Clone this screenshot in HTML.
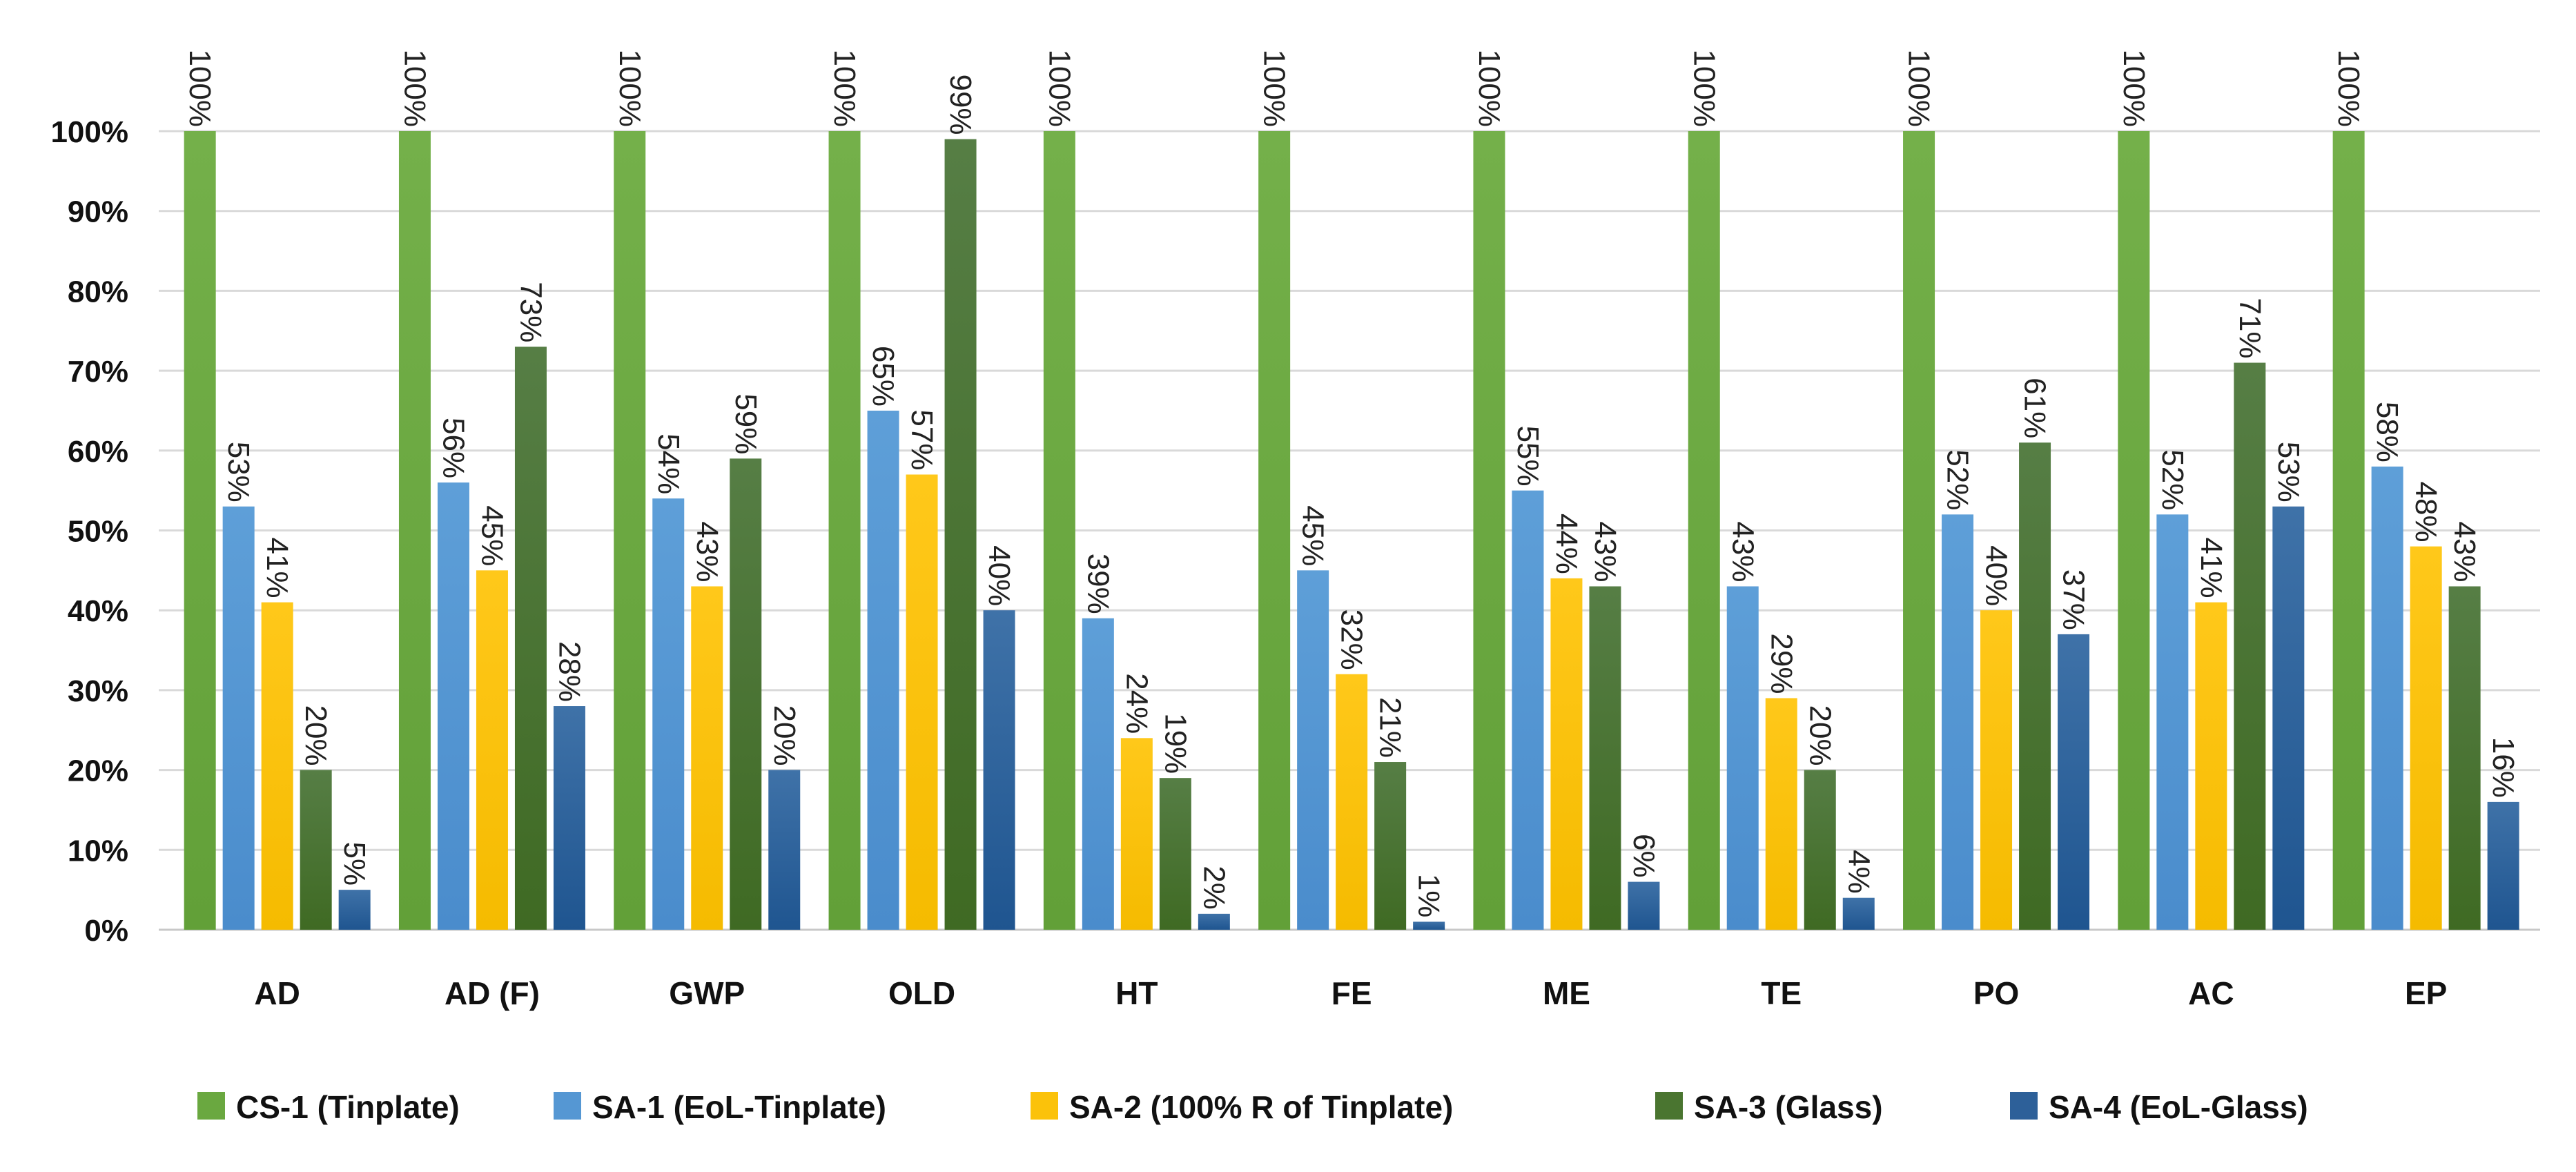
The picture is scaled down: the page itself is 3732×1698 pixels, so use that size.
<!DOCTYPE html>
<html><head><meta charset="utf-8"><style>
html,body{margin:0;padding:0;background:#fff}
svg{display:block;font-family:"Liberation Sans",sans-serif}
</style></head><body>
<svg id="chart" width="3732" height="1698" viewBox="0 0 3732 1698">
<defs>
<linearGradient id="g0" x1="0" x2="0" y1="0" y2="1"><stop offset="0" stop-color="#74b04a"/><stop offset="1" stop-color="#62a038"/></linearGradient>
<linearGradient id="g1" x1="0" x2="0" y1="0" y2="1"><stop offset="0" stop-color="#5e9fd8"/><stop offset="1" stop-color="#4a8ccc"/></linearGradient>
<linearGradient id="g2" x1="0" x2="0" y1="0" y2="1"><stop offset="0" stop-color="#ffc81a"/><stop offset="1" stop-color="#f5bb00"/></linearGradient>
<linearGradient id="g3" x1="0" x2="0" y1="0" y2="1"><stop offset="0" stop-color="#567e45"/><stop offset="1" stop-color="#3f6a23"/></linearGradient>
<linearGradient id="g4" x1="0" x2="0" y1="0" y2="1"><stop offset="0" stop-color="#3f72a8"/><stop offset="1" stop-color="#1f5590"/></linearGradient>
</defs>
<g id="grid"></g><g id="bars"></g><g id="labels"></g><g id="axis"></g><g id="legend"></g>
</svg>
<script>
const categories = ["AD","AD (F)","GWP","OLD","HT","FE","ME","TE","PO","AC","EP"];
const seriesNames = ["CS-1 (Tinplate)","SA-1 (EoL-Tinplate)","SA-2 (100% R of Tinplate)","SA-3 (Glass)","SA-4 (EoL-Glass)"];
const cs1 = [100,100,100,100,100,100,100,100,100,100,100];
const sa1 = [53,56,54,65,39,45,55,43,52,52,58];
const sa2 = [41,45,43,57,24,32,44,29,40,41,48];
const sa3 = [20,73,59,99,19,21,43,20,61,71,43];
const sa4 = [5,28,20,40,2,1,6,4,37,53,16];
const yTicks = [0,10,20,30,40,50,60,70,80,90,100];

const series = [cs1,sa1,sa2,sa3,sa4];
const fills = ["url(#g0)","url(#g1)","url(#g2)","url(#g3)","url(#g4)"];
const legendSw = ["#6aa840","#5597d3","#fbc20a","#4a7530","#2d6099"];
const NS = "http://www.w3.org/2000/svg";
const plotL = 246, plotR = 3680, y0 = 1347, y100 = 190, groupW = 311.3, step = 56, barW = 46;
function yScale(v){ return y0 - (v/100)*(y0-y100); }
function groupX(i){ return plotL + i*groupW; }
function barCx(i,s){ const gc = groupX(i)+groupW/2; return gc + (s-2)*step; }
function mk(tag, attrs, parent){ const e=document.createElementNS(NS,tag); for(const k in attrs) e.setAttribute(k,attrs[k]); parent.appendChild(e); return e; }

const grid = document.getElementById('grid');
const axis = document.getElementById('axis');
yTicks.forEach(t=>{
  const y = yScale(t);
  const l = mk('line',{x1:plotL-16,x2:plotR,y1:y,y2:y,stroke:t===0?'#c8c8c8':'#d9d9d9','stroke-width':3},grid);
  
  
  const tx = mk('text',{x:186,y:y+16,'text-anchor':'end','font-size':44,'font-weight':'bold',fill:'#111'},axis);
  tx.textContent = t+'%';
  
  
});

const bars = document.getElementById('bars');
const labels = document.getElementById('labels');
categories.forEach((c,i)=>{
  series.forEach((arr,s)=>{
    const v = arr[i], cx = barCx(i,s), top = yScale(v);
    const r = mk('rect',{x:cx-barW/2,y:top,width:barW,height:y0-top,fill:fills[s]},bars);
    
    
    const t = mk('text',{x:0,y:0,'text-anchor':'end','font-size':44,fill:'#222','dominant-baseline':'central',transform:'translate('+cx+','+(top-6)+') rotate(90)'},labels);
    t.textContent = Math.round(v)+'%';
    
    
  });
  const ct = mk('text',{x:groupX(i)+groupW/2,y:1455,'text-anchor':'middle','font-size':46,'font-weight':'bold',fill:'#111'},axis);
  ct.textContent = c;
  
  
});

const legend = document.getElementById('legend');
const lx = [286,802,1493,2398,2912];
seriesNames.forEach((n,s)=>{
  const g = mk('g',{},legend);
  
  
  mk('rect',{x:lx[s],y:1582,width:40,height:40,fill:legendSw[s]},g);
  const t = mk('text',{x:lx[s]+56,y:1620,'font-size':46,'font-weight':'bold',fill:'#111'},g);
  t.textContent = n;
});
</script>
</body></html>
